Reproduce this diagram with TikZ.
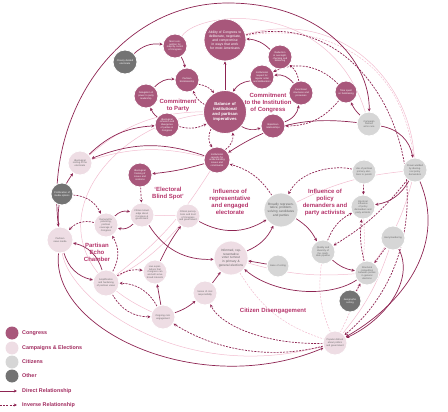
\documentclass[tikz,border=0pt]{standalone}
\usepackage{fontspec}
\setmainfont{Liberation Sans}
\usetikzlibrary{arrows.meta}
\pgfdeclarelayer{bg}
\pgfsetlayers{bg,main}
\definecolor{congc}{HTML}{A8577B}
\definecolor{campc}{HTML}{EEDDE4}
\definecolor{citzc}{HTML}{D6D6D6}
\definecolor{othc}{HTML}{737373}
\definecolor{arrc}{HTML}{8E2452}
\definecolor{faintc}{HTML}{F2BDD0}
\definecolor{labc}{HTML}{B5356B}
\definecolor{legc}{HTML}{A02A5E}
\begin{document}
\begin{tikzpicture}[x=1pt,y=-1pt,
  circ/.style={circle,draw=white,line width=0.8pt,inner sep=0pt,align=center,font=\fontsize{2.4}{2.8}\selectfont},
  cong/.style={circ,fill=congc,text=white},
  camp/.style={circ,fill=campc,text=black!60},
  citz/.style={circ,fill=citzc,text=black!60},
  oth/.style={circ,fill=othc,text=white},
  xs/.style={minimum size=22pt,text width=16pt},
  sm/.style={minimum size=24pt,text width=18pt},
  md/.style={minimum size=26pt,text width=19pt},
  lg/.style={minimum size=34pt,text width=27pt,font=\fontsize{3.2}{3.7}\selectfont},
  xl/.style={minimum size=42pt,text width=33pt,font=\fontsize{3.4}{3.9}\selectfont},
  lab/.style={align=center,text=labc,font=\bfseries\fontsize{6}{7}\selectfont},
  legt/.style={anchor=west,text=legc,font=\bfseries\fontsize{5.4}{6}\selectfont,inner sep=0pt},
  legdot/.style={circle,minimum size=13pt,inner sep=0pt},
  dir/.style={draw=arrc,line width=0.7pt,-{Stealth[length=3.2pt,width=3pt]}},
  inv/.style={dir,dash pattern=on 2pt off 1.2pt},
  fl/.style={draw=faintc,line width=0.5pt},
  fld/.style={fl,dash pattern=on 2pt off 1.2pt}
]
\useasboundingbox (0,0) rectangle (448,412);

% Congress
\node[cong,xl] (abil) at (225,40) {Ability of Congress to deliberate, negotiate, and compromise in ways that work for most Americans};
\node[cong,minimum size=43pt,text width=34pt,font=\bfseries\fontsize{4.2}{4.8}\selectfont] (bal) at (225,112) {Balance of institutional and partisan imperatives};
\node[cong,sm] (comp) at (175,46) {Most competition for majority control of Congress};
\node[cong,sm] (brink) at (187,80) {Partisan brinkmanship};
\node[cong,sm] (deleg) at (146,96) {Delegation of power to party leadership};
\node[cong,sm] (diverg) at (167,125) {Ideological cohesion and divergence of parties in Congress};
\node[cong,sm] (redu) at (280,57) {Reduction in oversight, checking and balancing};
\node[cong,sm] (inst) at (262,77) {Institutional respect for regular order and deliberation};
\node[cong,sm] (func) at (301,93) {Functional structures and processes};
\node[cong,sm] (bipart) at (273,126) {Bipartisan relationships};
\node[cong,xs] (time) at (346,92) {Time spent on fundraising};
\node[cong,md] (know) at (217,160) {Institutional capacity for understanding issues and constituents};
\node[cong,sm] (frame) at (140,175) {Ideological framing of issues and solutions};

% Other
\node[oth,sm] (closely) at (125,62) {Closely divided electorate};
\node[oth,xs] (prolif) at (62,194) {Proliferation of media options};
\node[oth,xs] (geo) at (350,301) {Geographic sorting};

% Citizens
\node[citz,sm] (finance) at (369,124) {Campaign finance arms race};
\node[citz,sm] (power) at (415,170) {Power wielded by ideological policy demanders};
\node[citz,sm] (usepart) at (364,172) {Use of partisan primary elections to punish};
\node[citz,sm] (elect) at (363,207) {Electoral influence of policy demanders and party activists};
\node[citz,lg] (broad) at (281,210) {Broadly representative, problem-solving candidates and parties};
\node[citz,sm] (gerry) at (393,238) {Gerrymandering};
\node[citz,sm] (pipe) at (323,252) {Quality and diversity of the candidate pipeline};
\node[citz,sm] (struct) at (367,273) {Structural competition between parties in general elections};
\node[citz,xs] (ease) at (278,266) {Ease of voting};

% Campaigns & Elections
\node[camp,sm] (sortel) at (80,163) {Ideological sorting of the electorate};
\node[camp,md] (news) at (60,240) {Partisan news media};
\node[camp,sm] (demand) at (106,225) {Demand for polarizing, partisan coverage of Congress};
\node[camp,sm] (citknow) at (142,215) {Citizen knowledge about Congress \& government};
\node[camp,sm] (citperc) at (188,216) {Citizen perceptions and trust of Congress and government};
\node[camp,lg] (turnout) at (231,258) {Informed, representative voter turnout in primary \& general elections};
\node[camp,sm] (civic) at (205,293) {Sense of civic responsibility};
\node[camp,sm] (engage) at (163,317) {Ongoing civic engagement};
\node[camp,sm] (expect) at (155,272) {Low expectations that Congress can and will serve broad interests};
\node[camp,md] (amplif) at (106,283) {Amplification and hardening of partisan views};
\node[camp,sm] (distrust) at (335,343) {Popular distrust about politics and government};

% Labels
\node[lab] (lparty) at (178,105) {Commitment\\to Party};
\node[lab] (linst) at (268,103) {Commitment\\to the Institution\\of Congress};
\node[lab] (lblind) at (168,193) {`Electoral\\Blind Spot'};
\node[lab] (lrep) at (230,202) {Influence of\\representative\\and engaged\\electorate};
\node[lab] (lpol) at (325,202) {Influence of\\policy\\demanders and\\party activists};
\node[lab] (lecho) at (97,252) {Partisan\\Echo\\Chamber};
\node[lab] (ldis) at (273,311) {Citizen Disengagement};

% Legend
\node[legdot,fill=congc] (k1) at (12,333) {};
\node[legdot,fill=campc] (k2) at (12,348) {};
\node[legdot,fill=citzc] (k3) at (12,362) {};
\node[legdot,fill=othc] (k4) at (12,376) {};
\node[legt] (t1) at (22,333) {Congress};
\node[legt] (t2) at (22,348) {Campaigns \& Elections};
\node[legt] (t3) at (22,362) {Citizens};
\node[legt] (t4) at (22,376) {Other};
\node[legt] (t5) at (22,391) {Direct Relationship};
\node[legt] (t6) at (22,405) {Inverse Relationship};
\coordinate (a1) at (0,391); \coordinate (b1) at (17,391);
\coordinate (a2) at (0,405); \coordinate (b2) at (17,405);
\coordinate (topc) at (228,3);

\begin{pgfonlayer}{bg}
% faint lines
\draw[fl] (bal) to[bend right=20] (sortel);
\draw[fl] (know) to[bend left=10] (amplif);
\draw[fl] (citperc) to[bend left=10] (amplif);
\draw[fl] (turnout) to[bend right=10] (struct);
\draw[fl] (broad) to[bend left=10] (power);
\draw[fl] (abil) .. controls (340,8) and (410,80) .. (power);
\draw[fl] (comp) .. controls (200,10) and (330,-2) .. (finance);
\draw[fld] (abil) .. controls (300,25) and (400,40) .. (power);
\draw[fld] (pipe) to[bend right=15] (distrust);
\draw[fld] (turnout) to[bend right=20] (distrust);
\draw[fl] (gerry) to[bend left=10] (distrust);
\draw[fl] (news) .. controls (70,300) and (180,385) .. (distrust);
\draw[fl] (citknow) -- (citperc);
\draw[fl] (bal) .. controls (100,125) and (15,250) .. (engage);
\draw[fld] (elect) to[bend left=15] (distrust);
\draw[fl] (power) to[bend left=10] (struct);
\draw[fl] (sortel) to[bend left=15] (know);

% top cluster
\draw[dir] (closely) to[bend left=25] (comp);
\draw[dir] (comp) to[bend left=10] (brink);
\draw[inv] (brink) to[bend left=20] (bal);
\draw[inv] (bal) to[bend left=20] (brink);
\draw[dir] (deleg) to[bend left=25] (brink);
\draw[dir] (diverg) to[bend left=15] (deleg);
\draw[inv] (diverg) to[bend right=20] (bal);
\draw[dir] (bal) -- (abil);
\draw[dir] (redu) to[bend right=20] (abil);
\draw[dir] (inst) to[bend right=25] (bal);
\draw[dir] (bal) to[bend right=25] (bipart);
\draw[dir] (bipart) to[bend right=30] (func);
\draw[dir] (func) to[bend right=30] (inst);
\draw[inv] (func) to[bend right=20] (redu);
\draw[inv] (time) to[bend right=35] (inst);
\draw[inv] (time) to[bend left=25] (bipart);
\draw[dir] (finance) to[bend left=10] (time);
\draw[inv] (bal) to[bend right=30] (know);
\draw[inv] (know) to[bend right=30] (bal);
\draw[dir] (know) to[bend left=5] (frame);
\draw[dir] (know) to[bend right=20] (sortel);
\draw[dir] (finance) to[bend right=20] (know);
\draw[dir] (finance) to[bend left=35] (power);
\draw[inv] (broad) to[bend right=20] (know);
\draw[dir] (sortel) to[bend left=20] (diverg);
\draw[dir] (topc) .. controls (120,3) and (45,110) .. (news);
\draw[dir] (topc) .. controls (320,3) and (370,60) .. (finance);

% left
\draw[inv] (frame) -- (citknow);
\draw[inv] (prolif) to[bend left=30] (demand);
\draw[inv] (demand) to[bend right=30] (news);
\draw[dir] (demand) to[bend left=30] (citknow);
\draw[dir] (citknow) to[bend left=30] (demand);
\draw[inv] (amplif) to[bend right=30] (demand);
\draw[dir] (news) to[bend right=30] (amplif);
\draw[dir] (amplif) to[bend right=30] (news);
\draw[inv] (amplif) to[bend left=20] (expect);
\draw[inv] (amplif) to[bend right=30] (engage);
\draw[inv] (engage) to[bend right=30] (amplif);
\draw[dir] (engage) -- (expect);
\draw[dir] (engage) to[bend right=10] (civic);
\draw[dir] (civic) -- (turnout);
\draw[dir] (expect) to[bend left=5] (citperc);
\draw[dir] (news) to[bend left=20] (sortel);
\draw[dir] (citperc) to[bend right=30] (broad);
\draw[dir] (citknow) to[bend right=30] (turnout);
\draw[dir] (turnout) to[bend right=20] (broad);
\draw[dir] (ease) -- (turnout);

% right
\draw[dir] (power) to[bend left=25] (elect);
\draw[inv] (usepart) -- (elect);
\draw[inv] (usepart) .. controls (335,165) and (300,170) .. (broad);
\draw[inv] (pipe) to[bend left=20] (elect);
\draw[inv] (struct) to[bend left=10] (elect);
\draw[inv] (power) to[bend left=10] (pipe);
\draw[dir] (pipe) to[bend right=15] (struct);
\draw[inv] (gerry) -- (struct);
\draw[inv] (geo) -- (struct);
\draw[dir] (broad) to[bend left=15] (pipe);
\draw[dir] (struct) .. controls (330,298) and (275,295) .. (turnout);
\draw[dir] (power) .. controls (445,240) and (410,300) .. (distrust);
\draw[dir] (gerry) .. controls (415,280) and (385,320) .. (distrust);
\draw[inv] (abil) .. controls (390,0) and (470,230) .. (distrust);
\draw[inv] (distrust) .. controls (270,360) and (215,350) .. (engage);
\draw[inv] (distrust) .. controls (265,345) and (220,325) .. (civic);
\draw[dir] (news) .. controls (50,330) and (200,400) .. (distrust);

% legend arrows
\draw[dir] (a1) -- (b1);
\draw[inv] (a2) -- (b2);
\end{pgfonlayer}
\end{tikzpicture}
\end{document}
